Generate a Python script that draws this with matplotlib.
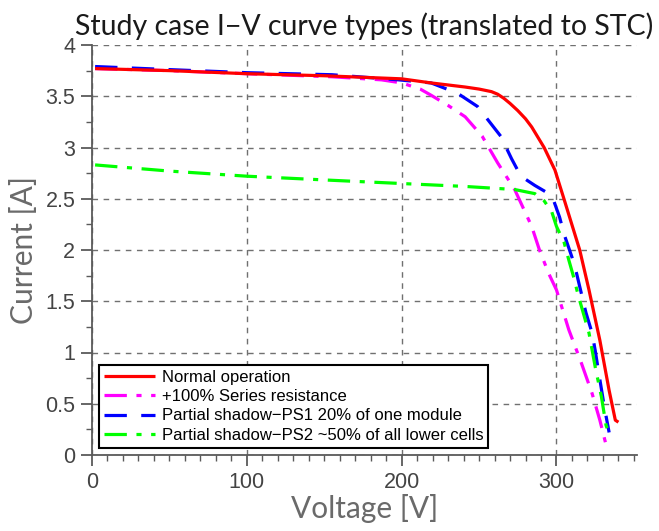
import matplotlib
matplotlib.use("Agg")
import matplotlib.pyplot as plt
from matplotlib.ticker import MultipleLocator

# I-V curves translated to STC (voltage in V, current in A)
v_normal = [2, 50, 100, 150, 200, 219, 241, 250, 258, 262, 266, 270, 275, 280,
            284, 292, 299, 305, 315, 321, 328, 334, 338, 340]
i_normal = [3.77, 3.75, 3.72, 3.70, 3.67, 3.63, 3.59, 3.57, 3.545, 3.52, 3.48,
            3.43, 3.36, 3.28, 3.20, 3.00, 2.78, 2.49, 2.00, 1.61, 1.12, 0.63,
            0.34, 0.32]

v_rs = [2, 50, 100, 155, 187, 200, 212, 219, 230, 241, 252, 262, 273, 284, 289,
        295, 300, 308, 316, 323, 328, 332]
i_rs = [3.77, 3.75, 3.72, 3.69, 3.66, 3.63, 3.57, 3.51, 3.41, 3.30, 3.11, 2.85,
        2.59, 2.23, 2.00, 1.77, 1.61, 1.22, 0.90, 0.60, 0.34, 0.10]

v_ps1 = [2, 50, 100, 155, 198, 219, 236, 249, 264, 271, 277, 286, 295, 298, 302,
         305, 310, 313, 316, 319, 323, 325, 327, 331, 334]
i_ps1 = [3.79, 3.76, 3.73, 3.71, 3.66, 3.63, 3.53, 3.40, 3.11, 2.89, 2.72, 2.63,
         2.55, 2.49, 2.32, 2.15, 1.93, 1.77, 1.58, 1.39, 1.19, 1.02, 0.83, 0.46,
         0.22]

v_ps2 = [2, 50, 100, 155, 198, 241, 273, 286, 292, 297, 300, 305, 308, 311, 314,
         321, 325, 329, 332, 333]
i_ps2 = [2.83, 2.77, 2.72, 2.68, 2.65, 2.62, 2.59, 2.55, 2.48, 2.37, 2.23, 2.07,
         1.90, 1.74, 1.56, 1.19, 0.86, 0.57, 0.29, 0.25]

labels = ["Normal operation",
          "+100% Series resistance",
          "Partial shadow\u2212PS1 20% of one module",
          "Partial shadow\u2212PS2 ~50% of all lower cells"]

x_ticks = [0, 100, 200, 300]
y_ticks = [0, 0.5, 1, 1.5, 2, 2.5, 3, 3.5, 4]

title_font = "Lato"
tick_font = "Liberation Sans"
axis_gray = "#5a5a5a"

fig = plt.figure(figsize=(6.59, 5.31), dpi=100)
ax = fig.add_axes([92 / 659, 76 / 531, 545 / 659, 410 / 531])

ax.plot(v_normal, i_normal, color="#ff0000", lw=2.3, label=labels[0],
        solid_capstyle="butt", zorder=4)
ax.plot(v_rs, i_rs, color="#ff00ff", lw=2.3, label=labels[1],
        dashes=(7, 3, 1.6, 3), zorder=3)
ax.plot(v_ps1, i_ps1, color="#0000ff", lw=2.3, label=labels[2],
        dashes=(7, 4.5), zorder=3)
ax.plot(v_ps2, i_ps2, color="#00ff00", lw=2.3, label=labels[3],
        dashes=(7, 3, 1.6, 3), zorder=3)

ax.set_xlim(0, 352)
ax.set_ylim(0, 4)
ax.set_xticks(x_ticks)
ax.set_yticks(y_ticks)
ax.set_yticklabels(["0", "0.5", "1", "1.5", "2", "2.5", "3", "3.5", "4"])
ax.xaxis.set_minor_locator(MultipleLocator(10))
ax.yaxis.set_minor_locator(MultipleLocator(0.25))

for side in ("top", "right"):
    ax.spines[side].set_visible(False)
for side in ("left", "bottom"):
    ax.spines[side].set_color(axis_gray)
    ax.spines[side].set_linewidth(1.3)

ax.tick_params(which="major", direction="out", length=8, width=1.3,
               color=axis_gray, labelcolor="#444444", labelsize=15.5, pad=4)
ax.tick_params(which="minor", direction="out", length=4, width=1.0,
               color=axis_gray)
for lab in ax.get_xticklabels() + ax.get_yticklabels():
    lab.set_fontfamily(tick_font)

ax.grid(True, which="major", color="#707070", lw=1.0, ls=(0, (4, 4)), zorder=0)
ax.set_axisbelow(True)

ax.set_xlabel("Voltage [V]", fontsize=21.5, color="#6a6a6a",
              fontfamily=title_font, labelpad=1)
ax.set_ylabel("Current [A]", fontsize=21.5, color="#6a6a6a",
              fontfamily=title_font, labelpad=5)
ax.set_title("Study case I\u2212V curve types (translated to STC)", fontsize=20.5,
             color="#1a1a1a", fontfamily=title_font, pad=7)

leg = ax.legend(loc="lower left", bbox_to_anchor=(0.012, 0.018),
                prop={"family": tick_font, "size": 12}, frameon=True,
                fancybox=False, edgecolor="black", framealpha=1,
                handlelength=3.1, handletextpad=0.4, borderpad=0.3,
                labelspacing=0.25, borderaxespad=0)
leg.get_frame().set_linewidth(1.5)
leg.set_zorder(10)

fig.savefig("out.png", dpi=100)
